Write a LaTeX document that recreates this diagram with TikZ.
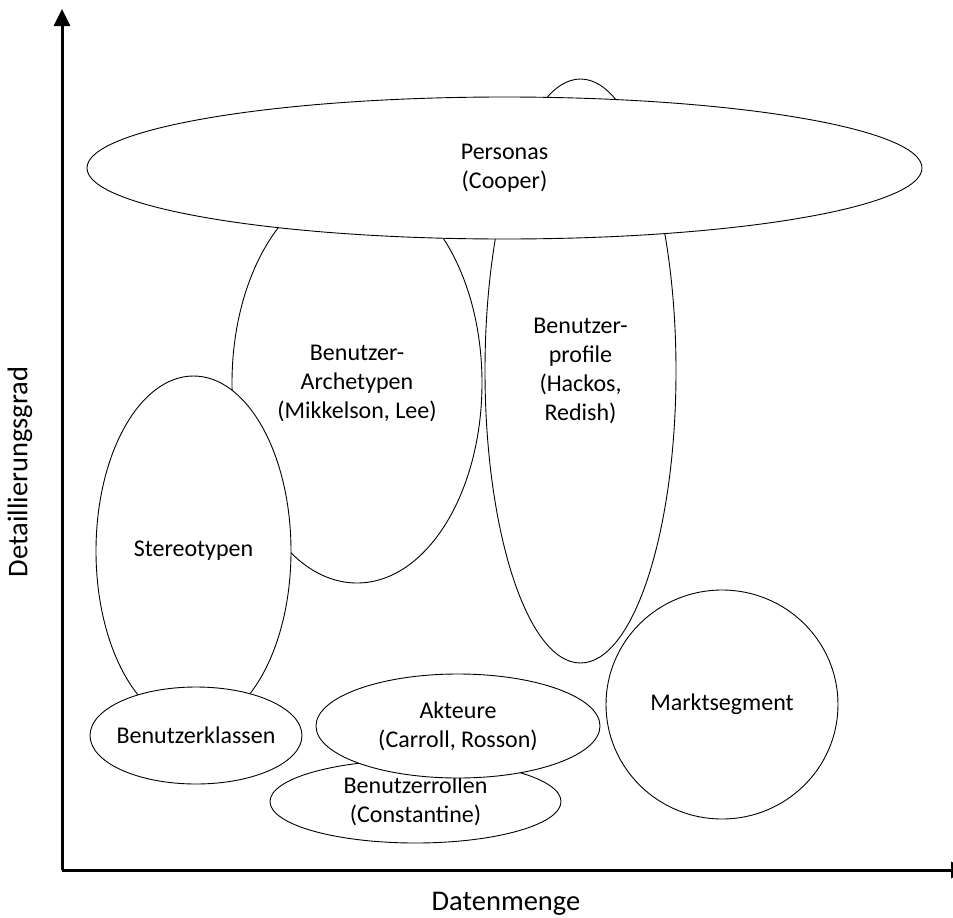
\documentclass[tikz,border=0pt]{standalone}
\usepackage{fontspec}
\setmainfont{Carlito}
\usetikzlibrary{shapes.geometric,arrows.meta}

\tikzset{
  blob/.style={ellipse, draw=black, fill=white, line width=0.9pt, inner sep=0pt},
  blobtext/.style={align=center, inner sep=0pt, font=\fontsize{24}{29}\selectfont},
  axis/.style={line width=3pt, -{Triangle[length=17pt,width=16pt]}},
  axislabel/.style={font=\fontsize{28.5}{34}\selectfont, inner sep=0pt}
}

\begin{document}
\begin{tikzpicture}[x=1pt,y=-1pt]
  \useasboundingbox (0,0) rectangle (953,918);

  % axes
  \coordinate (O) at (62,870);
  \coordinate (ytop) at (62,9);
  \coordinate (xend) at (968,870);
  \draw[axis] (O) -- (ytop);
  \draw[axis] (O) -- (xend);
  \node[axislabel] (xlab) at (506,904) {Datenmenge};
  \node[axislabel, rotate=90] (ylab) at (20,472) {Detaillierungsgrad};

  % user models, back to front; each text sits centred in its ellipse
  \node[blob, minimum width=191pt, minimum height=584pt,
        label={[blobtext]center:{Benutzer-\\profile\\(Hackos,\\Redish)}}]
        (profile) at (580.5,371) {};
  \node[blob, minimum width=250pt, minimum height=400pt,
        label={[blobtext]center:{Benutzer-\\Archetypen\\(Mikkelson, Lee)}}]
        (arche) at (357,383) {};
  \node[blob, minimum width=195pt, minimum height=350pt,
        label={[blobtext]center:{Stereotypen}}]
        (stereo) at (193.5,551) {};
  \node[blob, minimum width=835pt, minimum height=142pt,
        label={[blobtext]center:{Personas\\(Cooper)}}]
        (personas) at (504.5,168) {};
  \node[blob, minimum width=212pt, minimum height=97pt,
        label={[blobtext]center:{Benutzerklassen}}]
        (klassen) at (196,735.5) {};
  \node[blob, minimum width=291pt, minimum height=83pt,
        label={[blobtext]center:{Benutzerrollen\\(Constantine)}}]
        (rollen) at (415.5,801.5) {};
  \node[blob, minimum width=284pt, minimum height=104pt,
        label={[blobtext]center:{Akteure\\(Carroll, Rosson)}}]
        (akteure) at (458,726) {};
  \node[blob, minimum width=232pt, minimum height=229pt,
        label={[blobtext]center:{Marktsegment}}]
        (markt) at (722,704.5) {};
\end{tikzpicture}
\end{document}
